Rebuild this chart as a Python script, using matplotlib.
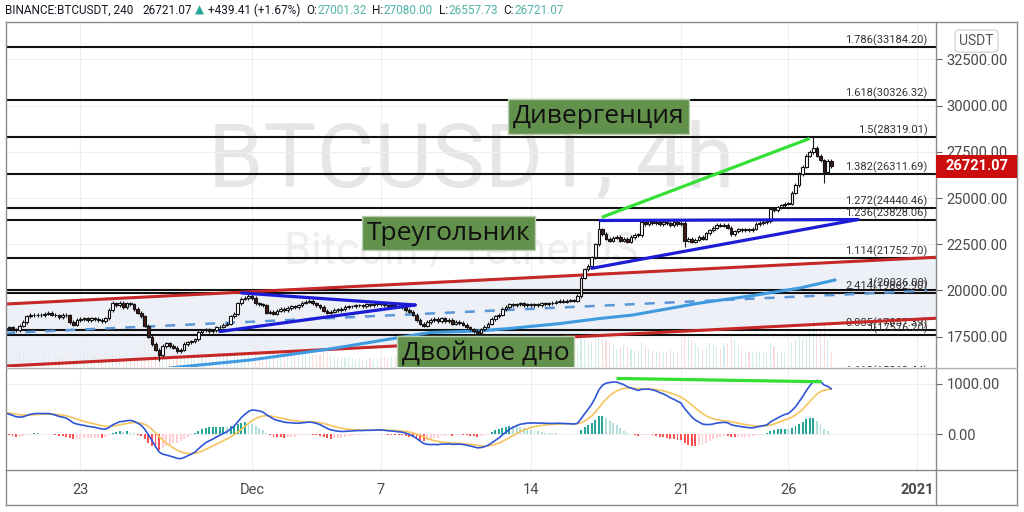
import numpy as np
import pandas as pd
import matplotlib
matplotlib.use("Agg")
import matplotlib.pyplot as plt
from matplotlib.lines import Line2D
from matplotlib.patches import Rectangle

# ---------------- data ----------------
start_time = "2020-11-19 12:00"          # first visible 4h candle
first_open = 17850
closes = [
    17950, 18000, 17900,                                  # Nov 19 (12h..)
    17850, 18100, 18300, 18600, 18700, 18650,             # Nov 20
    18700, 18650, 18750, 18800, 18700, 18650,             # Nov 21
    18550, 18700, 18650, 18300, 18150, 18400,             # Nov 22
    18450, 18500, 18400, 18500, 18450, 18400,             # Nov 23
    18350, 18500, 18950, 19300, 19200, 19350,             # Nov 24
    19100, 19300, 19250, 19000, 18800, 18600,             # Nov 25
    18100, 17500, 17100, 16800, 16500, 17000,             # Nov 26
    17150, 17000, 16900, 16700, 16800, 17100,             # Nov 27
    17200, 17250, 17350, 17750, 17850, 17900,             # Nov 28
    17800, 17850, 18000, 18050, 18150, 18200,             # Nov 29
    18600, 18750, 19300, 19550, 19600, 19700,             # Nov 30
    19600, 19300, 19250, 19200, 18800, 18850,             # Dec 1
    18750, 18900, 19000, 18950, 19050, 19150,             # Dec 2
    19100, 19200, 19350, 19400, 19450, 19300,             # Dec 3
    19200, 19100, 18900, 18800, 18850, 18950,             # Dec 4
    18950, 19000, 19100, 19150, 19150, 19200,             # Dec 5
    19200, 19150, 19250, 19200, 19250, 19300,             # Dec 6
    19250, 19200, 19150, 19200, 19150, 19150,             # Dec 7
    19100, 18950, 18850, 18700, 18400, 18200,             # Dec 8
    18100, 18300, 18400, 18450, 18350, 18500,             # Dec 9
    18350, 18400, 18200, 18300, 18250, 18150,             # Dec 10
    18000, 17900, 17800, 17700, 17900, 18050,             # Dec 11
    18200, 18450, 18600, 18700, 19000, 19100,             # Dec 12
    19250, 19200, 19250, 19300, 19200, 19250,             # Dec 13
    19200, 19250, 19200, 19300, 19250, 19300,             # Dec 14
    19350, 19400, 19450, 19400, 19450, 19450,             # Dec 15
    19450, 19700, 20700, 21150, 21350, 21800,             # Dec 16
    22500, 23300, 23050, 22800, 22700, 22850,             # Dec 17
    22900, 22700, 22800, 22650, 22900, 23000,             # Dec 18
    23000, 23700, 23600, 23750, 23650, 23700,             # Dec 19
    23600, 23700, 23650, 23550, 23700, 23600,             # Dec 20
    23650, 22700, 22800, 22650, 22750, 22900,             # Dec 21
    22800, 23100, 23250, 23400, 23550, 23500,             # Dec 22
    23550, 23400, 23050, 23200, 23300, 23250,             # Dec 23
    23300, 23250, 23350, 23600, 23650, 23700,             # Dec 24
    23750, 24400, 24350, 24500, 24600, 24700,             # Dec 25
    24700, 25300, 25700, 26300, 26700, 27300,             # Dec 26
    27500, 27700, 27300, 27050, 26400, 27001.32,          # Dec 27
    26721.07,                                             # Dec 28
]
special_highs = {"2020-11-24 12:00": 19450, "2020-12-01 00:00": 19850,
                 "2020-12-17 04:00": 23800, "2020-12-27 04:00": 28350}
special_lows = {"2020-11-26 16:00": 16200, "2020-12-21 04:00": 22350,
                "2020-12-27 16:00": 25800, "2020-12-11 12:00": 17550}
volumes = [
    14, 12, 13,
    12, 15, 16, 18, 14, 12,   13, 14, 16, 15, 12, 11,   12, 11, 13, 18, 17, 14,
    13, 14, 15, 16, 14, 13,   14, 16, 20, 22, 18, 17,   15, 16, 14, 18, 20, 24,
    30, 38, 36, 34, 40, 30,   22, 20, 21, 24, 20, 18,   14, 12, 13, 18, 16, 12,
    11, 10, 12, 13, 12, 12,   18, 17, 24, 22, 20, 18,   26, 24, 22, 20, 30, 22,
    18, 16, 17, 18, 16, 15,   14, 13, 14, 15, 14, 13,   13, 14, 16, 18, 14, 12,
    11, 10, 10, 11, 10, 9,    9, 8, 9, 10, 9, 9,        10, 11, 10, 12, 11, 10,
    11, 12, 13, 15, 18, 16,   20, 17, 15, 18, 14, 13,   12, 12, 14, 13, 12, 13,
    16, 15, 17, 20, 15, 13,   12, 13, 12, 14, 16, 15,   13, 12, 11, 12, 12, 11,
    10, 11, 10, 12, 11, 10,   11, 12, 11, 13, 12, 11,   12, 24, 36, 30, 26, 28,
    40, 42, 34, 30, 26, 24,   20, 22, 24, 22, 20, 18,   18, 28, 22, 20, 18, 17,
    16, 18, 17, 19, 16, 15,   20, 50, 34, 30, 26, 22,   20, 22, 26, 24, 22, 20,
    24, 26, 36, 30, 24, 20,   18, 17, 16, 18, 17, 16,   15, 28, 22, 18, 16, 15,
    16, 28, 30, 34, 30, 36,   48, 56, 44, 40, 46, 30,
    18,
]
macd_fast_seed, macd_slow_seed, macd_signal_seed = 17800, 17360, 430

header_symbol = "BINANCE:BTCUSDT, 240"
header_last = "26721.07"
header_change = "+439.41 (+1.67%)"
header_ohlc = [("O:", "27001.32"), ("H:", "27080.00"), ("L:", "26557.73"), ("C:", "26721.07")]

fib_levels = [33184.20, 30326.32, 28319.01, 26311.69, 24440.46, 23828.06,
              21752.70, 20036.00, 19862.90, 17857.39, 17576.20, 15262.44]
fib_labels = ["1.786(33184.20)", "1.618(30326.32)", "1.5(28319.01)", "1.382(26311.69)",
              "1.272(24440.46)", "1.236(23828.06)", "1.114(21752.70)", "1(20036.00)",
              "2.414(19862.90)", "0.885(17857.39)", "1(17576.20)", "1.618(15262.44)"]

channel_upper = [("2020-11-19 12:00", 19267), ("2021-01-02 00:00", 21805)]
channel_lower = [("2020-11-19 12:00", 15913), ("2021-01-02 00:00", 18505)]
dashed_line = [("2020-11-19 12:00", 17698), ("2021-01-01 11:00", 19989)]
ma_curve = [("2020-11-26 06:00", 15536), ("2020-11-27 04:00", 15807), ("2020-11-30 22:00", 16239),
            ("2020-12-04 15:00", 16835), ("2020-12-07 14:00", 17403), ("2020-12-09 07:00", 17727),
            ("2020-12-11 12:00", 17808), ("2020-12-13 00:00", 17944), ("2020-12-15 09:00", 18214),
            ("2020-12-17 05:00", 18485), ("2020-12-18 18:00", 18674), ("2020-12-21 21:00", 19323),
            ("2020-12-24 05:00", 19702), ("2020-12-26 13:00", 20135), ("2020-12-28 04:00", 20567)]
tri1_upper = [("2020-11-30 12:30", 19864), ("2020-12-08 14:30", 19215)]
tri1_lower = [("2020-11-29 12:00", 17781), ("2020-12-08 14:30", 19215)]
tri2_upper = [("2020-12-17 05:20", 23786), ("2020-12-29 06:00", 23840)]
tri2_lower = [("2020-12-16 20:00", 21200), ("2020-12-29 06:00", 23840)]
div_price = [("2020-12-17 09:00", 23992), ("2020-12-26 22:20", 28196)]
div_macd = [("2020-12-18 01:30", 1110), ("2020-12-27 11:30", 1045)]

notes = [("Дивергенция", "2020-12-17 03:40", 29413),
         ("Треугольник", "2020-12-10 03:20", 23110),
         ("Двойное дно", "2020-12-11 21:30", 16618)]

price_ticks = [17500, 20000, 22500, 25000, 27500, 30000, 32500]
macd_ticks = [0, 1000]
time_ticks = ["2020-11-23", "2020-12-01", "2020-12-07", "2020-12-14", "2020-12-21", "2020-12-26", "2021-01-01"]
time_labels = ["23", "Dec", "7", "14", "21", "26", "2021"]

# ---------------- helpers ----------------
REF = pd.Timestamp("2020-12-01")
def dnum(s):
    return (pd.Timestamp(s) - REF) / pd.Timedelta(days=1)

def seg(points):
    return [dnum(t) for t, _ in points], [v for _, v in points]

W, H = 1024, 512
def fx(px): return px / W
def fy(py): return 1 - py / H

closes = np.array(closes, dtype=float)
times = pd.date_range(start_time, periods=len(closes), freq="4h")
xs = ((times - REF) / pd.Timedelta(days=1)).to_numpy()
opens = np.r_[first_open, closes[:-1]]
body_lo = np.minimum(opens, closes)
body_hi = np.maximum(opens, closes)
highs = body_hi + 90
lows = body_lo - 90
for t, v in special_highs.items():
    highs[times.get_loc(pd.Timestamp(t))] = v
for t, v in special_lows.items():
    lows[times.get_loc(pd.Timestamp(t))] = v
up = closes >= opens

# MACD 12/26/9
f, s, sig = macd_fast_seed, macd_slow_seed, macd_signal_seed
macd, signal = [], []
for c in closes:
    f += 2 / 13 * (c - f)
    s += 2 / 27 * (c - s)
    m = f - s
    sig += 2 / 10 * (m - sig)
    macd.append(m)
    signal.append(sig)
macd = np.array(macd); signal = np.array(signal); hist = macd - signal
hcol = []
prev = hist[0]
for h in hist:
    if h >= 0:
        hcol.append("#26a69a" if h >= prev else "#b2dfdb")
    else:
        hcol.append("#ff5252" if h < prev else "#ffcdd2")
    prev = h

# ---------------- figure ----------------
fig = plt.figure(figsize=(10.24, 5.12), dpi=100)
fig.patch.set_facecolor("white")
ax = fig.add_axes([fx(6), fy(367), (935.7 - 6) / W, (367 - 22) / H])
axm = fig.add_axes([fx(6), fy(470), (935.7 - 6) / W, (470 - 368) / H], sharex=ax)

# volume (twin axis, behind) - created first so that the price axis stays on the right
axv = ax.twinx()
axv.set_ylim(0, 380)
axv.set_axis_off()
axv.set_zorder(ax.get_zorder() - 1)
ax.patch.set_visible(False)

XMIN, XMAX = -11.47, 31.87
ax.set_xlim(XMIN, XMAX)
ax.set_ylim(15861, 34525)
axm.set_ylim(-710, 1318)

for a in (ax, axm):
    for sp in a.spines.values():
        sp.set_visible(False)
    a.grid(True, color="#eeeeee", lw=0.8, zorder=0)
    a.set_axisbelow(True)

tick_x = [dnum(t) for t in time_ticks]
ax.set_xticks(tick_x)
ax.tick_params(axis="x", labelbottom=False, length=0)
axm.set_xticks(tick_x)
axm.set_xticklabels(time_labels)
axm.tick_params(axis="x", length=0, pad=9, labelsize=10.5, labelcolor="#4a4a4a")
for lbl in axm.get_xticklabels():
    lbl.set_fontfamily("Roboto")
    if lbl.get_text() == "2021":
        lbl.set_fontweight("bold")

for a, tk in ((ax, price_ticks), (axm, macd_ticks)):
    a.yaxis.tick_right()
    a.yaxis.set_label_position("right")
    a.set_yticks(tk)
    a.set_yticklabels([f"{v:.2f}" for v in tk])
    a.tick_params(axis="y", which="both", left=False, labelleft=False, right=True,
                  labelright=True, length=4, width=0.8, color="#666666", pad=4,
                  labelsize=10.5, labelcolor="#4a4a4a")
    for lbl in a.get_yticklabels():
        lbl.set_fontfamily("Roboto")

axv.bar(xs, volumes, width=0.05, color=np.where(up, "#26a69a", "#ef5350"), alpha=0.2, lw=0)

# watermarks
ax.text(0.5, 0.522, "BTCUSDT, 4h", transform=ax.transAxes, ha="center", va="baseline",
        fontsize=64, color="#e6e6e6", family="Roboto", zorder=0.5)
ax.text(0.49, 0.301, "Bitcoin / TetherUS", transform=ax.transAxes, ha="center", va="baseline",
        fontsize=31.5, color="#eeeeee", family="Roboto", zorder=0.5)

# channel fill and lines
cu_x, cu_y = seg(channel_upper)
cl_x, cl_y = seg(channel_lower)
ax.fill_between(cu_x, cu_y, cl_y, color="#e9ebf6", alpha=0.75, lw=0, zorder=1)

# fib horizontal levels
lab_tr = matplotlib.transforms.blended_transform_factory(ax.transAxes, ax.transData)
for lv, lb in zip(fib_levels, fib_labels):
    ax.axhline(lv, color="#111111", lw=1.5, zorder=2)
    t = ax.text(0.991, lv + 60, lb, transform=lab_tr, ha="right", va="bottom",
                fontsize=8, color="#333333", family="Roboto", zorder=2.5)
    t.set_clip_on(True)

ax.plot(cu_x, cu_y, color="#c62828", lw=2.2, zorder=3, solid_capstyle="butt")
ax.plot(cl_x, cl_y, color="#c62828", lw=2.2, zorder=3, solid_capstyle="butt")
dx, dy = seg(dashed_line)
ax.plot(dx, dy, color="#5b96d6", lw=1.8, ls=(0, (4, 4)), zorder=3)
mx, my = seg(ma_curve)
ax.plot(mx, my, color="#3f9ae0", lw=2.2, zorder=3)

# candles
ax.vlines(xs, lows, highs, color="#1a1a1a", lw=0.8, zorder=5)
bh = np.maximum(body_hi - body_lo, 30)
ax.bar(xs[up], bh[up], bottom=body_lo[up], width=0.125, color="white",
       edgecolor="#111111", lw=0.8, zorder=6)
ax.bar(xs[~up], bh[~up], bottom=body_lo[~up], width=0.125, color="#4a1a1a",
       edgecolor="#111111", lw=0.8, zorder=6)

# triangles & divergence lines
for pts in (tri1_upper, tri1_lower, tri2_upper, tri2_lower):
    a_, b_ = seg(pts)
    ax.plot(a_, b_, color="#1c1cd6", lw=2.3, zorder=7, solid_capstyle="round")
gx, gy = seg(div_price)
ax.plot(gx, gy, color="#33e033", lw=2.3, zorder=7)

# notes
for txt, t, p in notes:
    tt = ax.text(dnum(t), p, txt, ha="center", va="center", fontsize=19, family="Open Sans",
                 color="#111111", zorder=20,
                 bbox=dict(boxstyle="square,pad=0.18", fc="#62914b", ec="#b9cfae", lw=1))
    tt.set_clip_on(True)

# MACD pane
axm.bar(xs, hist, width=0.09, color=hcol, zorder=2)
axm.plot(xs, signal, color="#f6c45f", lw=1.2, zorder=3)
axm.plot(xs, macd, color="#2f56d6", lw=1.2, zorder=4)
mgx, mgy = seg(div_macd)
axm.plot(mgx, mgy, color="#33e033", lw=2.3, zorder=5)

# frame lines
def fline(x0, y0, x1, y1, c="#8a8a8a", lw=1.0):
    fig.add_artist(Line2D([fx(x0), fx(x1)], [fy(y0), fy(y1)], transform=fig.transFigure,
                          color=c, lw=lw, zorder=30))
fline(6, 22, 1017, 22); fline(6, 505, 1017, 505)
fline(6, 22, 6, 505); fline(1017, 22, 1017, 505)
fline(935.7, 22, 935.7, 505)
fline(6, 367.5, 1017, 367.5, c="#b0b0b0")
fline(6, 470, 1017, 470)

# current price tag
fig.canvas.draw()
ypix = ax.transData.transform((0, closes[-1]))[1]
fig.add_artist(Rectangle((fx(936.2), (ypix - 11.5) / H), (1017 - 936.2) / W, 23 / H,
                         transform=fig.transFigure, fc="#cc0d0d", ec="none", zorder=31))
fig.text(fx(976.5), ypix / H, f"{closes[-1]:.2f}", ha="center", va="center", color="white",
         fontsize=10.5, fontweight="bold", family="Roboto", zorder=32)

# USDT badge
fig.text(fx(976.5), fy(41), "USDT", ha="center", va="center", color="#555555", fontsize=10,
         family="Roboto", zorder=32,
         bbox=dict(boxstyle="round,pad=0.3,rounding_size=0.3", fc="white", ec="#d6d6d6", lw=1))

# header
dark, teal = "#131722", "#26a69a"
segs = [(header_symbol, dark, 0), (header_last, dark, 9), ("▲", teal, 3), (header_change, dark, 4)]
for k, v in header_ohlc:
    segs.append((k, dark, 6)); segs.append((v, "#4fb3a6", 0))
prev_t = fig.text(fx(5), fy(10), segs[0][0], ha="left", va="center", color=segs[0][1],
                  fontsize=8.5, family=["Roboto", "DejaVu Sans"])
for s_, c_, gap in segs[1:]:
    prev_t = ax.annotate(s_, xy=(1, 0.5), xycoords=prev_t, xytext=(gap * 0.72, 0),
                         textcoords="offset points", ha="left", va="center", color=c_,
                         fontsize=8.5, family=["Roboto", "DejaVu Sans"], annotation_clip=False)

fig.savefig("out.png", dpi=100, facecolor="white")
